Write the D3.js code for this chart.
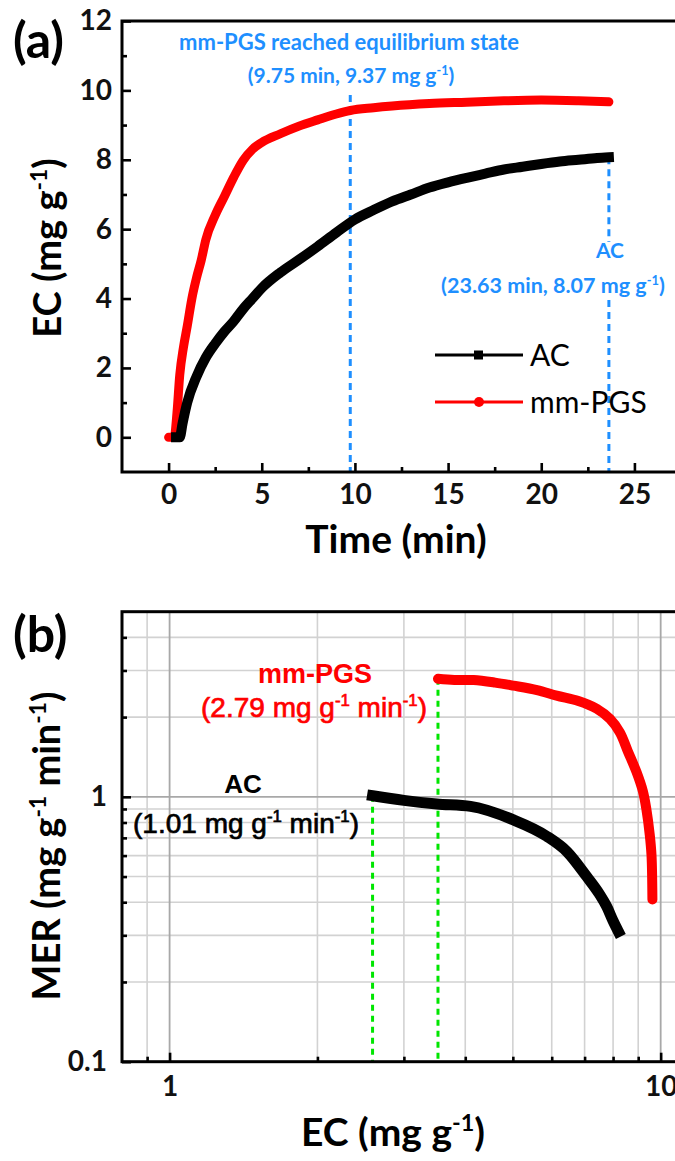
<!DOCTYPE html>
<html><head><meta charset="utf-8">
<script src="https://cdn.jsdelivr.net/npm/d3@7"></script>
<style>body{margin:0;background:#fff}svg{display:block}</style>
</head><body>
<svg id="c" width="675" height="1161"></svg>
<script>
// ---------- data (a) ----------
const timePGS = [0, 0.3, 0.45, 0.6, 0.8, 1.0, 1.25, 1.5, 1.75, 2.0, 2.5, 3.0, 3.5, 4.0, 4.5, 5.0, 6.0, 7.0, 8.0, 9.0, 9.75, 11, 12, 14, 16, 18, 20, 22, 23.63];
const ecPGS   = [0, 0, 0.7, 1.8, 2.6, 3.2, 4.0, 4.6, 5.1, 5.7, 6.4, 6.95, 7.5, 7.98, 8.3, 8.5, 8.75, 8.97, 9.15, 9.32, 9.42, 9.5, 9.55, 9.62, 9.66, 9.7, 9.72, 9.7, 9.67];
const timeAC  = [0.4, 0.6, 0.75, 1.0, 1.5, 2.0, 2.5, 3.0, 3.5, 4.0, 4.5, 5.0, 6.0, 7.0, 8.0, 9.0, 10, 11, 12, 13, 14, 15, 16, 17, 18, 19, 20, 21, 22, 23, 23.63];
const ecAC    = [0, 0, 0.4, 1.0, 1.75, 2.3, 2.7, 3.05, 3.35, 3.7, 4.0, 4.3, 4.75, 5.12, 5.5, 5.9, 6.28, 6.55, 6.8, 7.0, 7.2, 7.35, 7.48, 7.6, 7.72, 7.8, 7.88, 7.95, 8.0, 8.05, 8.07];
const xTicksA = [0, 5, 10, 15, 20, 25];
const xMinorA = [2.5, 7.5, 12.5, 17.5, 22.5];
const yTicksA = [0, 2, 4, 6, 8, 10, 12];
const yMinorA = [1, 3, 5, 7, 9, 11];
const eqPGS = [9.75, 9.37];
const eqAC = [23.63, 8.07];

// ---------- data (b) ----------
const ecAC_b  = [2.59, 3.0, 3.5, 4.1, 5.0, 5.86, 6.45, 7.07, 7.5, 7.76, 8.0, 8.2];
const merAC   = [1.01, 0.97, 0.94, 0.92, 0.82, 0.71, 0.62, 0.50, 0.43, 0.386, 0.34, 0.31];
const ecPGS_b = [3.52, 3.8, 4.16, 4.6, 5.01, 5.6, 6.14, 6.8, 7.41, 7.88, 8.26, 8.58, 8.93, 9.2, 9.35, 9.5, 9.58, 9.62];
const merPGS  = [2.79, 2.76, 2.76, 2.7, 2.63, 2.53, 2.41, 2.3, 2.15, 1.97, 1.75, 1.48, 1.24, 1.05, 0.9, 0.72, 0.6, 0.41];
const xTicksB = [1, 10];
const yTicksB = [0.1, 1];
const mrAC = [2.59, 1.01];
const mrPGS = [3.52, 2.79];

// ---------- layout ----------
const svg = d3.select("#c");
const L = 122, R = 681;
const FONT = "Lato, 'Open Sans', sans-serif";
const ARIAL = "'Liberation Sans', Arial, sans-serif";
const BLUE = "#1e8fff", RED = "#ff0000", GREEN = "#00e600";

function richText(g, x, y, parts, opts) {
  const t = g.append("text").attr("x", x).attr("y", y)
    .attr("font-family", opts.family).attr("font-size", opts.size)
    .attr("font-weight", opts.weight || "bold").attr("fill", opts.fill || "#000")
    .attr("text-anchor", opts.anchor || "middle");
  if (opts.transform) t.attr("transform", opts.transform);
  if (opts.stroke) t.attr("stroke", opts.fill || "#000").attr("stroke-width", opts.stroke);
  const s = opts.size;
  let pend = 0;
  parts.forEach(p => {
    if (typeof p === "string") {
      const ts = t.append("tspan").text(p);
      if (pend) { ts.attr("dy", pend); pend = 0; }
    } else {
      t.append("tspan").attr("font-size", s * 0.6).attr("dy", -s * 0.38).text(p.sup);
      pend = s * 0.38;
    }
  });
  return t;
}

// ================= Panel (a) =================
const topA = 21, botA = 472;
const xA = d3.scaleLinear().domain([-2.5, 27.5]).range([L, R]);
const yA = d3.scaleLinear().domain([-1, 12]).range([botA, topA]);
const gA = svg.append("g");

function styleAxis(g, fs) {
  g.select(".domain").remove();
  g.selectAll(".tick line").attr("stroke", "#000").attr("stroke-width", 2.6);
  g.selectAll(".tick text").attr("font-family", FONT).attr("font-weight", "bold")
    .attr("font-size", fs).attr("fill", "#111");
}
// x axis
gA.append("g").attr("transform", `translate(0,${botA})`)
  .call(d3.axisBottom(xA).tickValues(xTicksA).tickSizeInner(-9).tickSizeOuter(0).tickPadding(12).tickFormat(d3.format("d")))
  .call(g => styleAxis(g, 28));
gA.append("g").attr("transform", `translate(0,${botA})`)
  .call(d3.axisBottom(xA).tickValues(xMinorA).tickSizeInner(-5).tickSizeOuter(0).tickFormat(""))
  .call(g => styleAxis(g, 28));
// y axis
gA.append("g").attr("transform", `translate(${L},0)`)
  .call(d3.axisLeft(yA).tickValues(yTicksA).tickSizeInner(-9).tickSizeOuter(0).tickPadding(10).tickFormat(d3.format("d")))
  .call(g => styleAxis(g, 28));
gA.append("g").attr("transform", `translate(${L},0)`)
  .call(d3.axisLeft(yA).tickValues(yMinorA).tickSizeInner(-5).tickSizeOuter(0).tickFormat(""))
  .call(g => styleAxis(g, 28));

// annotation lines
const dashA = "7,5";
gA.append("line").attr("x1", xA(eqPGS[0])).attr("x2", xA(eqPGS[0])).attr("y1", 95).attr("y2", botA)
  .attr("stroke", BLUE).attr("stroke-width", 3).attr("stroke-dasharray", dashA);
gA.append("line").attr("x1", xA(eqAC[0])).attr("x2", xA(eqAC[0])).attr("y1", yA(eqAC[1])).attr("y2", 242)
  .attr("stroke", BLUE).attr("stroke-width", 3).attr("stroke-dasharray", dashA);
gA.append("line").attr("x1", xA(eqAC[0])).attr("x2", xA(eqAC[0])).attr("y1", 300).attr("y2", botA)
  .attr("stroke", BLUE).attr("stroke-width", 3).attr("stroke-dasharray", dashA);

// curves
const lineA = d3.line().x(d => xA(d[0])).y(d => yA(d[1])).curve(d3.curveMonotoneX);
gA.append("path").datum(d3.zip(timePGS, ecPGS)).attr("d", lineA)
  .attr("fill", "none").attr("stroke", RED).attr("stroke-width", 9)
  .attr("stroke-linecap", "round").attr("stroke-linejoin", "round");
gA.append("path").datum(d3.zip(timeAC, ecAC)).attr("d", lineA)
  .attr("fill", "none").attr("stroke", "#000").attr("stroke-width", 10)
  .attr("stroke-linecap", "square").attr("stroke-linejoin", "round");

// frame
gA.append("rect").attr("x", L).attr("y", topA).attr("width", R - L).attr("height", botA - topA)
  .attr("fill", "none").attr("stroke", "#000").attr("stroke-width", 3);

// blue texts
richText(gA, 349, 50, ["mm-PGS reached equilibrium state"], {family: FONT, size: 22, fill: BLUE});
richText(gA, 351, 83, [`(${eqPGS[0]} min, ${eqPGS[1]} mg g`, {sup: "-1"}, ")"], {family: FONT, size: 21, fill: BLUE});
richText(gA, 610, 258, ["AC"], {family: FONT, size: 21, fill: BLUE});
richText(gA, 553, 293, [`(${eqAC[0]} min, ${eqAC[1]} mg g`, {sup: "-1"}, ")"], {family: FONT, size: 21.5, fill: BLUE});

// legend
const lg = gA.append("g");
[[355, "#000", "AC", "sq"], [402, RED, "mm-PGS", "ci"]].forEach(([yy, col, lab, m]) => {
  lg.append("line").attr("x1", 435).attr("x2", 523).attr("y1", yy).attr("y2", yy).attr("stroke", col).attr("stroke-width", 3);
  if (m === "sq") lg.append("rect").attr("x", 474).attr("y", yy - 4.5).attr("width", 9).attr("height", 9).attr("fill", col);
  else lg.append("circle").attr("cx", 479).attr("cy", yy).attr("r", 5).attr("fill", col);
  lg.append("text").attr("x", 530).attr("y", yy + 11).attr("font-family", FONT).attr("font-size", 30)
    .attr("fill", "#000").text(lab);
});

// axis titles
richText(gA, 396, 553, ["Time (min)"], {family: FONT, size: 39});
richText(svg, 0, 0, ["EC (mg g", {sup: "-1"}, ")"], {family: FONT, size: 38, transform: "translate(61,248) rotate(-90)"});
richText(svg, 13, 58, ["(a)"], {family: FONT, size: 50, anchor: "start"});

// ================= Panel (b) =================
const topB = 611.7, botB = 1061.7;
const xB = d3.scaleLog().domain([0.8, 11]).range([L, R]);
const yB = d3.scaleLog().domain([0.1, 5]).range([botB, topB]);
const gB = svg.append("g");

const xGrid = [0.9, 2, 3, 4, 5, 6, 7, 8, 9];
const yGrid = [0.2, 0.3, 0.4, 0.5, 0.6, 0.7, 0.8, 0.9, 2, 3, 4];
gB.append("g").selectAll("line").data(xGrid).join("line")
  .attr("x1", d => xB(d)).attr("x2", d => xB(d)).attr("y1", topB).attr("y2", botB)
  .attr("stroke", "#d2d2d2").attr("stroke-width", 1.6);
gB.append("g").selectAll("line").data(yGrid).join("line")
  .attr("y1", d => yB(d)).attr("y2", d => yB(d)).attr("x1", L).attr("x2", R)
  .attr("stroke", "#d2d2d2").attr("stroke-width", 1.6);
gB.append("g").selectAll("line").data(xTicksB).join("line")
  .attr("x1", d => xB(d)).attr("x2", d => xB(d)).attr("y1", topB).attr("y2", botB)
  .attr("stroke", "#a8a8a8").attr("stroke-width", 1.8);
gB.append("g").selectAll("line").data([1]).join("line")
  .attr("y1", d => yB(d)).attr("y2", d => yB(d)).attr("x1", L).attr("x2", R)
  .attr("stroke", "#a8a8a8").attr("stroke-width", 1.8);

gB.append("g").attr("transform", `translate(0,${botB})`)
  .call(d3.axisBottom(xB).tickValues(xTicksB).tickSizeInner(-9).tickSizeOuter(0).tickPadding(14).tickFormat(d3.format("d")))
  .call(g => styleAxis(g, 28));
gB.append("g").attr("transform", `translate(0,${botB})`)
  .call(d3.axisBottom(xB).tickValues(xGrid).tickSizeInner(-5).tickSizeOuter(0).tickFormat(""))
  .call(g => styleAxis(g, 28));
gB.append("g").attr("transform", `translate(${L},0)`)
  .call(d3.axisLeft(yB).tickValues(yTicksB).tickSizeInner(-9).tickSizeOuter(0).tickPadding(15).tickFormat(d => String(d)))
  .call(g => styleAxis(g, 28));
gB.append("g").attr("transform", `translate(${L},0)`)
  .call(d3.axisLeft(yB).tickValues(yGrid).tickSizeInner(-5).tickSizeOuter(0).tickFormat(""))
  .call(g => styleAxis(g, 28));

// green dashed lines
[mrAC, mrPGS].forEach(p => {
  gB.append("line").attr("x1", xB(p[0])).attr("x2", xB(p[0])).attr("y1", yB(p[1])).attr("y2", botB)
    .attr("stroke", GREEN).attr("stroke-width", 3).attr("stroke-dasharray", "6,5");
});

const lineB = d3.line().x(d => xB(d[0])).y(d => yB(d[1])).curve(d3.curveMonotoneX);
gB.append("path").datum(d3.zip(ecAC_b, merAC)).attr("d", lineB)
  .attr("fill", "none").attr("stroke", "#000").attr("stroke-width", 11)
  .attr("stroke-linecap", "square").attr("stroke-linejoin", "round");
gB.append("path").datum(d3.zip(ecPGS_b, merPGS)).attr("d", d3.line().x(d => xB(d[0])).y(d => yB(d[1])).curve(d3.curveCatmullRom))
  .attr("fill", "none").attr("stroke", RED).attr("stroke-width", 10)
  .attr("stroke-linecap", "round").attr("stroke-linejoin", "round");

gB.append("rect").attr("x", L).attr("y", topB).attr("width", R - L).attr("height", botB - topB)
  .attr("fill", "none").attr("stroke", "#000").attr("stroke-width", 3);

// annotations
richText(gB, 315, 683, ["mm-PGS"], {family: ARIAL, size: 27, fill: RED});
richText(gB, 314, 717, [`(${mrPGS[1]} mg g`, {sup: "-1"}, " min", {sup: "-1"}, ")"], {family: ARIAL, size: 28, weight: "normal", fill: RED, stroke: 0.7});
richText(gB, 243, 793, ["AC"], {family: ARIAL, size: 26, fill: "#000"});
richText(gB, 246, 833, [`(${mrAC[1]} mg g`, {sup: "-1"}, " min", {sup: "-1"}, ")"], {family: ARIAL, size: 28, weight: "normal", fill: "#000", stroke: 0.7});

richText(svg, 393, 1146, ["EC (mg g", {sup: "-1"}, ")"], {family: FONT, size: 39});
richText(svg, 0, 0, ["MER (mg g", {sup: "-1"}, " min", {sup: "-1"}, ")"], {family: FONT, size: 38, transform: "translate(60,846) rotate(-90)"});
richText(svg, 13, 652, ["(b)"], {family: FONT, size: 50, anchor: "start"});
</script>
</body></html>
